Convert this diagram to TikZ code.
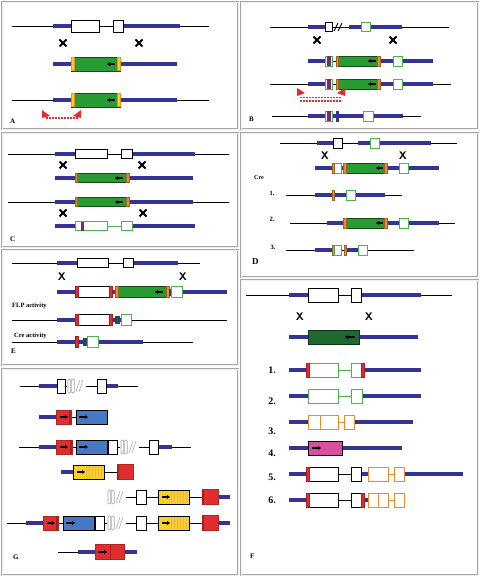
\documentclass[tikz,border=0pt]{standalone}
\usepackage{fontspec}
\setmainfont{Liberation Serif}
\usetikzlibrary{arrows.meta}
\definecolor{barblue}{RGB}{52,52,150}
\definecolor{gfill}{RGB}{40,155,50}
\definecolor{dgfill}{RGB}{30,105,45}
\definecolor{gout}{RGB}{75,180,75}
\definecolor{orng}{RGB}{235,140,40}
\definecolor{ylw}{RGB}{250,210,30}
\definecolor{rd}{RGB}{225,45,45}
\definecolor{dred}{RGB}{170,30,30}
\definecolor{gblue}{RGB}{70,120,195}
\definecolor{mag}{RGB}{215,80,160}
\definecolor{purp}{RGB}{120,40,120}
\definecolor{tealbar}{RGB}{30,80,85}
\tikzset{
  frame/.style={draw=gray!70, double=gray!12, double distance=0.9pt, line width=1pt},
  tline/.style={black, line width=0.9pt},
  bbar/.style={barblue, line width=4.5pt},
  wbox/.style={draw=black, fill=white, line width=0.9pt},
  gwbox/.style={draw=gout, fill=white, line width=0.9pt},
  owbox/.style={draw=orng, fill=white, line width=0.9pt},
  gfbox/.style={draw=black!50!gfill, fill=gfill, line width=0.6pt},
  dgbox/.style={draw=black!50!dgfill, fill=dgfill, line width=0.6pt},
  rbox/.style={draw=rd!80!black, fill=rd, line width=0.5pt},
  bluebox/.style={draw=black, fill=gblue, line width=0.9pt},
  ybox/.style={draw=black, fill=ylw, line width=0.9pt},
  mbox/.style={draw=black, fill=mag, line width=0.9pt},
  obar/.style={fill=orng, draw=orng!70!black, line width=0.3pt},
  ybar/.style={fill=ylw, draw=orng, line width=0.4pt},
  rbar/.style={fill=rd, draw=dred, line width=0.3pt},
  pbar/.style={fill=purp, draw=purp, line width=0.3pt},
  tbar/.style={fill=tealbar, draw=tealbar, line width=0.3pt},
  xa/.style={black, line width=2pt},
  xl/.style={font=\sffamily\bfseries\fontsize{11}{11}\selectfont, inner sep=0pt},
  larr/.style={black, line width=1.2pt, -{Triangle[length=3pt,width=4pt]}},
  lab/.style={font=\bfseries\fontsize{7}{7}\selectfont, inner sep=0pt, anchor=west},
  num/.style={font=\bfseries\fontsize{10}{10}\selectfont, inner sep=0pt},
  snum/.style={font=\bfseries\fontsize{6.5}{6.5}\selectfont, inner sep=0pt},
  primer/.style={fill=rd, draw=none},
  pdots/.style={rd, line width=1.6pt, dash pattern=on 1.6pt off 1.4pt},
  brk/.style={gray!70, line width=0.6pt},
}
\newcommand{\HL}[3]{\draw[tline] (#1,#3) -- (#2,#3);}
\newcommand{\BB}[3]{\draw[bbar] (#1,#3) -- (#2,#3);}
\newcommand{\BX}[5]{\draw[#1] (#2,#4-#5) rectangle (#3,#4+#5);}
\newcommand{\XA}[2]{\draw[xa] (#1-3.5,#2-3.5)--(#1+3.5,#2+3.5) (#1-3.5,#2+3.5)--(#1+3.5,#2-3.5);}
\newcommand{\LA}[3]{\draw[larr] (#2,#3) -- (#1,#3);}
\newcommand{\RA}[3]{\draw[larr] (#1,#3) -- (#2,#3);}
% gray break symbol: two rounded bars and a double slash
\newcommand{\BRK}[2]{%
  \draw[brk, rounded corners=1pt] (#1,#2-7) rectangle (#1+2.6,#2+7);
  \draw[brk, rounded corners=1pt] (#1+3.6,#2-7) rectangle (#1+6.2,#2+7);
  \draw[brk] (#1+8,#2+6) -- (#1+12,#2-6) (#1+11,#2+6) -- (#1+15,#2-6);}
\begin{document}
\begin{tikzpicture}[x=1pt,y=-1pt]
\useasboundingbox (0,0) rectangle (480,577);
\fill[white] (0,0) rectangle (480,577);
% ---------------- frames
\draw[frame] (2,2) rectangle (238,129);
\draw[frame] (241,2) rectangle (478,129);
\draw[frame] (2,133) rectangle (238,247);
\draw[frame] (241,133) rectangle (478,277);
\draw[frame] (2,250) rectangle (238,365);
\draw[frame] (2,369) rectangle (238,575);
\draw[frame] (241,280) rectangle (478,575);

% ================= Panel A
\HL{12}{209}{26}
\BB{53}{71}{26}\BB{123}{180}{26}
\BX{wbox}{71}{99}{26}{6}
\BX{wbox}{113}{123}{26}{6}
\XA{63}{43}\XA{139}{43}
\BB{53}{177}{64}
\BX{gfbox}{71}{120}{64}{7}
\BX{ybar}{71.5}{74}{64}{6.5}\BX{ybar}{117.5}{120}{64}{6.5}
\LA{107}{115}{64}
\HL{12}{209}{100}
\BB{53}{177}{100}
\BX{gfbox}{71}{120}{100}{7}
\BX{ybar}{71.5}{74}{100}{6.5}\BX{ybar}{117.5}{120}{100}{6.5}
\LA{107}{115}{100}
\draw[pdots] (46,118) -- (78,118);
\fill[primer] (42,110) -- (42,118) -- (50,116) -- cycle;
\fill[primer] (81,110) -- (81,118) -- (73,116) -- cycle;
\node[lab] (labA) at (10,121) {A};

% ================= Panel B
\HL{270}{449}{27}
\BB{308}{325}{27}\BB{349}{402}{27}
\BX{wbox}{325}{332}{27}{4.5}
\draw[tline] (334,31) -- (338,23) (338,31) -- (342,23);
\BX{gwbox}{361}{370}{27}{4.5}
\XA{317}{40}\XA{393}{40}
% row 2 and 3
\foreach \yy in {61,84}{
  \BB{308}{326}{\yy}\BB{379}{433}{\yy}
  \draw[tline] (332,\yy) -- (336,\yy);
  \BX{gwbox}{325}{332}{\yy}{5}
  \BX{pbar}{327}{330}{\yy}{4.5}
  \BX{gfbox}{336}{380}{\yy}{5}
  \BX{obar}{336}{338.5}{\yy}{5}\BX{obar}{377.5}{380}{\yy}{5}
  \LA{368}{376}{\yy}
  \BX{gwbox}{393}{402}{\yy}{5}
}
\HL{270}{308}{84}\HL{433}{451}{84}
\draw[pdots] (300,97.5) -- (342,97.5);
\draw[pdots] (300,101) -- (342,101);
\fill[primer] (297,96) -- (297,88) -- (305,93) -- cycle;
\fill[primer] (345,96) -- (345,88) -- (337,93) -- cycle;
% row 4
\HL{272}{421}{116}
\BB{308}{403}{116}
\BX{gwbox}{325}{332}{116}{5}
\BX{pbar}{327}{330}{116}{4.5}
\BX{fill=barblue,draw=barblue}{336.5}{338.5}{116}{5}
\BX{gwbox}{363}{373}{116}{5}
\node[lab] (labB) at (249,119) {B};

% ================= Panel C
\HL{8}{229}{154}
\BB{55}{75}{154}\BB{132}{195}{154}
\BX{wbox}{75}{107}{154}{4.5}
\BX{wbox}{121}{132}{154}{4.5}
\XA{63}{165}\XA{142}{165}
\BB{55}{193}{178}
\BX{gfbox}{75}{129}{178}{4.5}
\BX{obar}{75}{77.5}{178}{4.5}\BX{obar}{126.5}{129}{178}{4.5}
\LA{115}{123}{178}
\HL{8}{229}{202}
\BB{55}{193}{202}
\BX{gfbox}{75}{129}{202}{4.5}
\BX{obar}{75}{77.5}{202}{4.5}\BX{obar}{126.5}{129}{202}{4.5}
\LA{115}{123}{202}
\XA{63}{213}\XA{143}{213}
\BB{55}{75}{226}\BB{132}{195}{226}
\draw[gout, line width=0.9pt] (107,226) -- (121,226);
\BX{gwbox}{75}{107}{226}{4.5}
\BX{pbar}{81.5}{83.5}{226}{4}
\BX{gwbox}{121}{132}{226}{4.5}
\node[lab] (labC) at (10,239) {C};

% ================= Panel D
\HL{280}{457}{143}
\BB{317}{333}{143}\BB{358}{431}{143}
\BX{wbox}{333}{342}{143}{5}
\BX{gwbox}{370}{379}{143}{5}
\node[xl] (xD1) at (325,156) {X};
\node[xl] (xD2) at (403,156) {X};
\BB{315}{439}{168}
\BX{gwbox}{334}{341}{168}{5}
\BX{obar}{332}{334.5}{168}{5}
\BX{gfbox}{344}{387}{168}{5}
\BX{obar}{343.5}{346}{168}{5}\BX{obar}{384.5}{387}{168}{5}
\LA{376}{383}{168}
\BX{gwbox}{399}{408}{168}{5}
\node[lab] (cre) at (254,178) {\fontsize{6}{6}\selectfont Cre};
% 1.
\node[snum] (d1) at (272,193) {1.};
\HL{286}{402}{195}
\BB{315}{385}{195}
\BX{obar}{332}{334.5}{195}{5}
\BX{gwbox}{346}{355}{195}{5}
% 2.
\node[snum] (d2) at (272,219) {2.};
\HL{290}{455}{223}
\BB{327}{439}{223}
\BX{gfbox}{344}{387}{223}{5}
\BX{obar}{343.5}{346}{223}{5}\BX{obar}{384.5}{387}{223}{5}
\LA{376}{383}{223}
\BX{gwbox}{399}{408}{223}{5}
% 3.
\node[snum] (d3) at (273,247) {3.};
\HL{286}{414}{250}
\BB{315}{332}{250}\BB{346}{367}{250}
\draw[tline] (340,250) -- (344,250);
\BX{obar}{332}{334.5}{250}{5}
\BX{gwbox}{334}{341}{250}{5}
\BX{obar}{344}{346.5}{250}{5}
\BX{gwbox}{358}{367}{250}{5}
\node[lab] (labD) at (252,262) {\fontsize{9}{9}\selectfont D};

% ================= Panel E
\HL{12}{200}{263}
\BB{57}{77}{263}\BB{133}{178}{263}
\BX{wbox}{77}{108}{263}{4.5}
\BX{wbox}{123}{133}{263}{4.5}
\node[xl] (xE1) at (62,277) {X};
\node[xl] (xE2) at (183,277) {X};
\BB{57}{227}{292}
\BX{wbox}{76}{111}{292}{5.5}
\BX{rbar}{75}{78}{292}{5.5}\BX{rbar}{109}{112}{292}{5.5}
\BX{gfbox}{116}{169}{292}{5.5}
\BX{obar}{115}{118}{292}{5.5}\BX{obar}{166}{169}{292}{5.5}
\LA{155}{163}{292}
\BX{tbar}{169}{171}{292}{3}
\BX{gwbox}{171}{182}{292}{5.5}
\node[lab] (flp) at (12,306) {\fontsize{6.5}{6.5}\selectfont FLP activity};
\HL{12}{227}{320}
\BB{57}{121}{320}
\BX{wbox}{76}{111}{320}{5.5}
\BX{rbar}{75}{78}{320}{5.5}\BX{rbar}{109}{112}{320}{5.5}
\BX{tbar}{115}{119}{320}{3.5}
\BX{gwbox}{121}{131}{320}{5.5}
\node[lab] (crea) at (14,336) {\fontsize{6.5}{6.5}\selectfont Cre activity};
\HL{12}{193}{342}
\BB{57}{143}{342}
\BX{rbar}{75}{78}{342}{5.5}
\BX{tbar}{83}{87}{342}{3.5}
\BX{gwbox}{87}{98}{342}{5.5}
\node[lab] (labE) at (11,351) {E};

% ================= Panel G
% row 1
\HL{20}{138}{386}
\BB{39}{57}{386}\BB{106}{118}{386}
\BX{wbox}{57}{65}{386}{7}
\fill[white] (67,378) rectangle (86,394);
\BRK{68}{386}
\BX{wbox}{97}{106}{386}{7}
% row 2
\BB{39}{57}{417}
\HL{71}{76}{417}
\BX{rbox}{56}{71}{417}{7}
\draw[fill=dred,draw=none] (69,410) rectangle (71,424);
\RA{60}{68}{417}
\BX{bluebox}{76}{107}{417}{7}
\RA{79}{88}{417}
% row 3
\HL{19}{191}{447}
\BB{39}{57}{447}\BB{159}{172}{447}
\BX{rbox}{56}{72}{447}{7}
\draw[fill=dred,draw=none] (70,440) rectangle (72,454);
\RA{60}{68}{447}
\BX{bluebox}{76}{107}{447}{7}
\RA{79}{88}{447}
\BX{wbox}{108}{117}{447}{7}
\fill[white] (120,439) rectangle (139,455);
\BRK{121}{447}
\BX{wbox}{149}{158}{447}{7}
% row 4
\BB{61}{73}{472}
\HL{104}{117}{472}
\BX{ybox}{73}{104}{472}{7}
\foreach \xx in {86,89,...,102}{\draw[orng!70, line width=0.3pt] (\xx,466) -- (\xx,478);}
\RA{77}{85}{472}
\BX{rbox}{117}{133}{472}{7.5}
\draw[fill=dred,draw=none] (117,464.5) rectangle (119,479.5);
% row 5
\HL{126}{202}{497}
\BRK{108}{497}
\BX{wbox}{136}{146}{497}{7}
\BX{ybox}{158}{189}{497}{7}
\foreach \xx in {171,174,...,187}{\draw[orng!70, line width=0.3pt] (\xx,491) -- (\xx,503);}
\RA{162}{170}{497}
\BB{218}{230}{497}
\BX{rbox}{202}{218}{497}{7.5}
\draw[fill=dred,draw=none] (202,489.5) rectangle (204,504.5);
% row 6
\HL{7}{202}{523}
\BB{26}{43}{523}\BB{218}{230}{523}
\BX{rbox}{43}{58}{523}{7}
\draw[fill=dred,draw=none] (56,516) rectangle (58,530);
\RA{47}{55}{523}
\BX{bluebox}{63}{94}{523}{7}
\RA{66}{75}{523}
\BX{wbox}{95}{104}{523}{7}
\fill[white] (107,515) rectangle (126,531);
\BRK{108}{523}
\BX{wbox}{136}{146}{523}{7}
\BX{ybox}{158}{189}{523}{7}
\foreach \xx in {171,174,...,187}{\draw[orng!70, line width=0.3pt] (\xx,517) -- (\xx,529);}
\RA{162}{170}{523}
\BX{rbox}{202}{218}{523}{7.5}
\draw[fill=dred,draw=none] (202,515.5) rectangle (204,530.5);
% row 7
\HL{58}{95}{552}
\BB{78}{95}{552}\BB{124}{137}{552}
\BX{rbox}{95}{124}{552}{7.5}
\draw[dred, line width=0.8pt] (110,544.5) -- (110,559.5);
\RA{98}{107}{552}
\node[lab] (labG) at (13,557) {G};

% ================= Panel F
\HL{246}{452}{295}
\BB{289}{308}{295}\BB{361}{421}{295}
\HL{338}{351}{295}
\BX{wbox}{308}{338}{295}{7}
\BX{wbox}{351}{361}{295}{7}
\node[xl] (xF1) at (300,317) {X};
\node[xl] (xF2) at (369,317) {X};
\BB{289}{418}{337}
\BX{dgbox}{308}{359}{337}{7}
\LA{345}{355}{337}
% 1.
\node[num] (f1) at (272,370) {1.};
\BB{289}{308}{370}\BB{362}{421}{370}
\draw[gout, line width=0.9pt] (338,370) -- (351,370);
\BX{gwbox}{308}{338}{370}{7}
\BX{gwbox}{351}{362}{370}{7}
\BX{rbar}{306}{309}{370}{7}\BX{rbar}{361}{364}{370}{7}
% 2.
\node[num] (f2) at (272,401) {2.};
\BB{289}{308}{396}\BB{362}{421}{396}
\draw[gout, line width=0.9pt] (338,396) -- (351,396);
\BX{gwbox}{308}{338}{396}{7}
\BX{gwbox}{351}{362}{396}{7}
% 3.
\node[num] (f3) at (272,431) {3.};
\BB{289}{308}{422}\BB{354}{413}{422}
\draw[orng, line width=0.9pt] (338,422) -- (344,422);
\BX{owbox}{308}{320}{422}{7}
\BX{owbox}{320}{338}{422}{7}
\BX{owbox}{344}{354}{422}{7}
% 4.
\node[num] (f4) at (272,453) {4.};
\BB{289}{402}{448}
\BX{mbox}{308}{342}{448}{7}
\RA{312}{321}{448}
% 5.
\node[num] (f5) at (272,477) {5.};
\BB{289}{308}{474}\BB{361}{368}{474}\BB{404}{463}{474}
\HL{338}{351}{474}
\BX{wbox}{308}{338}{474}{7}
\BX{wbox}{351}{361}{474}{7}
\BX{rbar}{306}{309}{474}{7}
\draw[orng, line width=0.9pt] (388,474) -- (394,474);
\BX{owbox}{368}{388}{474}{7}
\BX{owbox}{394}{404}{474}{7}
% 6.
\node[num] (f6) at (272,500) {6.};
\BB{289}{308}{500}\BB{363}{368}{500}
\HL{338}{351}{500}
\BX{wbox}{308}{338}{500}{7}
\BX{wbox}{351}{362}{500}{7}
\BX{rbar}{306}{309}{500}{7}\BX{rbar}{361}{364}{500}{7}
\draw[orng, line width=0.9pt] (388,500) -- (394,500);
\BX{owbox}{368}{378}{500}{7}
\BX{owbox}{378}{388}{500}{7}
\BX{owbox}{394}{404}{500}{7}
\node[lab] (labF) at (250,556) {F};
\end{tikzpicture}
\end{document}
